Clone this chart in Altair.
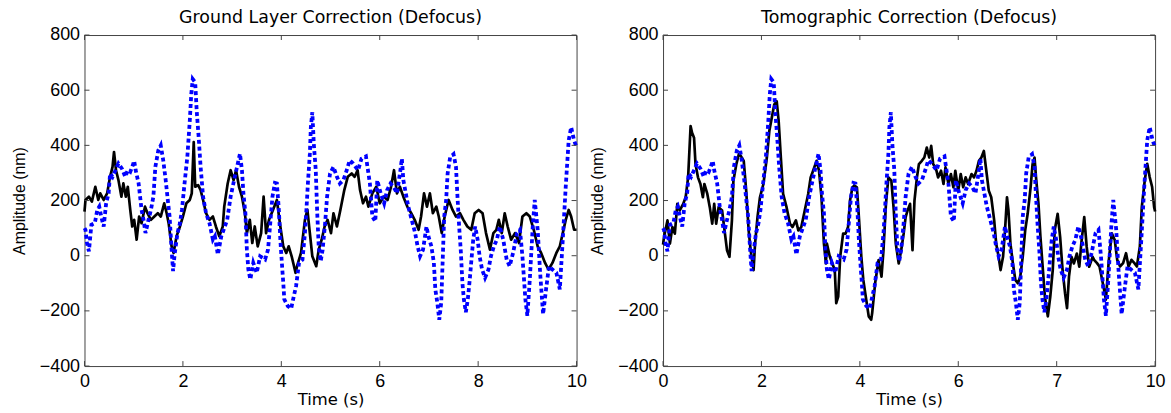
import altair as alt
import pandas as pd

# ---------------- data ----------------
# blue dashed series (identical in both panels)
blue_time = [0.00, 0.02, 0.05, 0.09, 0.14, 0.21, 0.26, 0.30, 0.34, 0.39, 0.44, 0.49, 0.52, 0.57, 0.63, 0.69,
             0.76, 0.83, 0.88, 0.93, 0.97, 1.01, 1.04, 1.10, 1.16, 1.20, 1.24, 1.30, 1.35, 1.40, 1.44, 1.50,
             1.55, 1.60, 1.65, 1.70, 1.73, 1.77, 1.80, 1.83, 1.89, 1.94, 1.98, 2.04, 2.09, 2.14, 2.17, 2.20,
             2.25, 2.28, 2.32, 2.36, 2.41, 2.47, 2.54, 2.61, 2.65, 2.71, 2.78, 2.90, 2.97, 3.04, 3.10, 3.16,
             3.20, 3.23, 3.27, 3.30, 3.33, 3.37, 3.43, 3.50, 3.57, 3.67, 3.73, 3.77, 3.82, 3.87, 3.91, 3.95,
             3.98, 4.02, 4.04, 4.06, 4.13, 4.20, 4.24, 4.30, 4.36, 4.43, 4.48, 4.51, 4.54, 4.58, 4.60, 4.63,
             4.66, 4.70, 4.73, 4.76, 4.80, 4.84, 4.89, 4.93, 4.99, 5.06, 5.13, 5.19, 5.26, 5.33, 5.39, 5.46,
             5.56, 5.63, 5.72, 5.80, 5.85, 5.91, 5.95, 6.02, 6.09, 6.15, 6.22, 6.28, 6.35, 6.42, 6.45, 6.48,
             6.53, 6.58, 6.65, 6.72, 6.77, 6.82, 6.88, 6.95, 6.99, 7.05, 7.10, 7.13, 7.17, 7.21, 7.25, 7.28,
             7.31, 7.35, 7.38, 7.43, 7.50, 7.55, 7.58, 7.61, 7.65, 7.68, 7.71, 7.75, 7.79, 7.83, 7.87, 7.90,
             7.94, 7.99, 8.03, 8.08, 8.14, 8.21, 8.26, 8.32, 8.38, 8.44, 8.51, 8.58, 8.64, 8.71, 8.79, 8.85,
             8.90, 8.96, 9.00, 9.05, 9.11, 9.15, 9.21, 9.26, 9.32, 9.38, 9.44, 9.51, 9.59, 9.66, 9.72, 9.78,
             9.84, 9.89, 9.95, 10.00]
blue_amp = [100, 94, 46, 16, 112, 118, 166, 178, 142, 106, 190, 226, 298, 286, 310, 334,
            316, 286, 310, 304, 322, 344, 310, 262, 166, 130, 82, 130, 166, 214, 322, 382,
            400, 346, 274, 190, 142, 22, -56, 2, 82, 118, 166, 274, 358, 490, 586, 640,
            628, 526, 430, 322, 214, 154, 118, 58, 70, 4, 70, 130, 214, 274, 322, 370,
            310, 226, 154, 22, -50, -86, -26, -62, -2, -14, 22, 106, 214, 264, 262, 166,
            58, -50, -98, -158, -182, -192, -158, -110, -26, -14, 82, 166, 262, 370, 466, 520,
            406, 310, 154, 34, -20, 22, 118, 214, 298, 322, 286, 262, 274, 310, 346, 334,
            310, 352, 360, 262, 142, 124, 274, 226, 190, 238, 262, 250, 226, 310, 352, 274,
            226, 178, 130, 82, 34, -2, 22, 106, 70, 34, -26, -122, -170, -232, -170, -14,
            142, 202, 298, 356, 368, 322, 214, 118, 10, -98, -158, -205, -158, -86, -2, 58,
            106, 58, -2, -50, -80, -50, -2, 34, 58, 106, 58, -14, -38, 10, 82, 94,
            -2, -158, -218, -86, 106, 202, 94, -62, -212, -122, -38, -50, -62, -122, 58, 250,
            418, 466, 418, 394]

# black solid series, ground layer correction (left panel)
glc_time = [0.00, 0.02, 0.09, 0.15, 0.22, 0.28, 0.32, 0.39, 0.46, 0.52, 0.57, 0.60, 0.64, 0.69, 0.75, 0.79,
            0.84, 0.88, 0.93, 0.97, 1.01, 1.06, 1.11, 1.16, 1.23, 1.28, 1.35, 1.42, 1.49, 1.55, 1.62, 1.67,
            1.71, 1.77, 1.81, 1.87, 1.94, 2.00, 2.07, 2.14, 2.18, 2.22, 2.25, 2.31, 2.36, 2.41, 2.47, 2.54,
            2.61, 2.67, 2.74, 2.81, 2.84, 2.91, 2.97, 3.03, 3.08, 3.14, 3.20, 3.26, 3.30, 3.36, 3.41, 3.46,
            3.52, 3.59, 3.64, 3.69, 3.75, 3.83, 3.91, 3.98, 4.04, 4.10, 4.15, 4.21, 4.29, 4.32, 4.40, 4.48,
            4.53, 4.58, 4.63, 4.71, 4.76, 4.82, 4.88, 4.94, 5.01, 5.06, 5.13, 5.20, 5.28, 5.35, 5.43, 5.49,
            5.55, 5.60, 5.66, 5.72, 5.77, 5.85, 5.93, 6.00, 6.08, 6.16, 6.23, 6.29, 6.35, 6.41, 6.48, 6.56,
            6.64, 6.71, 6.79, 6.84, 6.90, 6.96, 7.02, 7.08, 7.15, 7.20, 7.26, 7.32, 7.40, 7.48, 7.55, 7.63,
            7.70, 7.78, 7.86, 7.93, 8.01, 8.09, 8.16, 8.24, 8.31, 8.37, 8.42, 8.48, 8.54, 8.60, 8.67, 8.75,
            8.83, 8.90, 8.98, 9.05, 9.13, 9.21, 9.28, 9.36, 9.43, 9.51, 9.59, 9.66, 9.72, 9.78, 9.84, 9.89,
            9.95, 10.00]
glc_amp = [160, 202, 214, 196, 250, 202, 226, 202, 226, 286, 322, 376, 310, 274, 214, 262,
           214, 250, 166, 106, 130, 58, 142, 118, 178, 154, 130, 142, 154, 142, 190, 154,
           118, 34, 10, 70, 106, 142, 190, 202, 226, 412, 250, 256, 238, 202, 154, 130,
           142, 106, 70, 106, 178, 262, 310, 274, 310, 250, 214, 154, 82, 130, 46, 106,
           34, 82, 214, 82, 130, 166, 202, 106, 34, 10, 34, -2, -62, -38, 10, 130,
           166, 82, -2, -38, 22, 58, 106, 130, 82, 154, 106, 166, 238, 286, 298, 286,
           310, 238, 190, 214, 178, 226, 250, 190, 214, 202, 250, 310, 226, 250, 214, 178,
           154, 130, 94, 142, 226, 178, 226, 154, 178, 142, 82, 142, 202, 166, 142, 154,
           130, 106, 94, 154, 166, 154, 82, 22, 82, 94, 130, 82, 154, 106, 58, 82,
           46, 142, 154, 142, 94, 34, 10, -26, -50, -26, 10, 34, 82, 130, 166, 142,
           94, 94]

# black solid series, tomographic correction (right panel)
tomo_time = [0.00, 0.02, 0.09, 0.14, 0.19, 0.24, 0.29, 0.34, 0.41, 0.46, 0.51, 0.56, 0.59, 0.63, 0.66, 0.71,
             0.76, 0.81, 0.84, 0.90, 0.95, 1.00, 1.04, 1.08, 1.13, 1.20, 1.25, 1.30, 1.35, 1.40, 1.43, 1.49,
             1.54, 1.58, 1.64, 1.69, 1.74, 1.78, 1.84, 1.87, 1.92, 1.97, 2.04, 2.11, 2.16, 2.21, 2.26, 2.31,
             2.35, 2.39, 2.44, 2.51, 2.58, 2.63, 2.70, 2.75, 2.81, 2.88, 2.95, 3.00, 3.05, 3.12, 3.17, 3.22,
             3.27, 3.31, 3.33, 3.39, 3.44, 3.49, 3.52, 3.56, 3.60, 3.66, 3.71, 3.76, 3.80, 3.85, 3.89, 3.94,
             3.98, 4.03, 4.07, 4.13, 4.18, 4.23, 4.25, 4.31, 4.38, 4.44, 4.48, 4.53, 4.58, 4.64, 4.69, 4.73,
             4.79, 4.84, 4.89, 4.93, 4.97, 5.02, 5.07, 5.11, 5.16, 5.20, 5.26, 5.31, 5.36, 5.41, 5.45, 5.49,
             5.54, 5.59, 5.65, 5.70, 5.74, 5.80, 5.85, 5.90, 5.94, 6.00, 6.05, 6.10, 6.15, 6.20, 6.27, 6.32,
             6.37, 6.42, 6.47, 6.52, 6.57, 6.62, 6.67, 6.73, 6.77, 6.82, 6.86, 6.91, 6.95, 6.99, 7.02, 7.06,
             7.11, 7.16, 7.21, 7.26, 7.31, 7.36, 7.41, 7.47, 7.51, 7.55, 7.58, 7.63, 7.67, 7.72, 7.76, 7.82,
             7.87, 7.92, 7.96, 8.02, 8.07, 8.12, 8.17, 8.21, 8.25, 8.30, 8.35, 8.41, 8.46, 8.50, 8.56, 8.61,
             8.66, 8.73, 8.76, 8.82, 8.87, 8.95, 9.00, 9.06, 9.12, 9.18, 9.23, 9.29, 9.35, 9.41, 9.46, 9.52,
             9.58, 9.63, 9.69, 9.73, 9.79, 9.84, 9.89, 9.94, 9.98, 10.00]
tomo_amp = [40, 68, 128, 44, 104, 80, 188, 164, 188, 212, 284, 470, 446, 428, 332, 284,
            260, 212, 260, 224, 176, 116, 188, 116, 176, 164, 92, 20, -4, 128, 272, 332,
            368, 362, 344, 236, 92, 20, -52, 44, 140, 212, 260, 356, 452, 500, 548, 560,
            488, 368, 224, 176, 116, 104, 128, 92, 104, 164, 224, 284, 308, 344, 308, 212,
            44, -28, 44, -4, -28, -52, -172, -148, -4, 80, 80, 104, 200, 248, 254, 248,
            140, -4, -88, -160, -220, -232, -208, -100, -16, -76, 20, 188, 284, 272, 164, 44,
            -28, 20, 80, 140, 164, 188, 20, 200, 284, 332, 344, 356, 392, 356, 398, 332,
            320, 284, 308, 260, 320, 260, 296, 248, 308, 236, 296, 248, 284, 260, 296, 284,
            308, 344, 356, 380, 308, 236, 212, 128, 44, -4, -52, -4, 92, 212, 164, 44,
            -28, -88, -100, -76, -4, 92, 152, 248, 332, 356, 284, 188, 68, -52, -148, -220,
            -148, -52, 92, 152, 68, -52, -136, -190, -76, -4, -28, 8, -40, 44, 140, 32,
            -40, -4, -15, -27, -39, -111, -159, -15, 81, 57, -15, -39, -27, 9, -39, -15,
            -27, -39, 33, 177, 273, 333, 285, 249, 177, 160]

y_ticks = [-400, -200, 0, 200, 400, 600, 800]
x_ticks = [0, 2, 4, 6, 8, 10]
x_labels_left = ["0", "2", "4", "6", "8", "10"]
x_labels_right = ["0", "2", "4", "6", "7", "10"]
panel_titles = ["Ground Layer Correction (Defocus)", "Tomographic Correction (Defocus)"]
x_title = "Time (s)"
y_title = "Amplitude (nm)"

# ---------------- chart ----------------
FONT = "Liberation Sans"
WIDE_FONT = "DejaVu Sans"
W, H = 495, 333
TICK = 5
FRAME = "#444444"

df_blue = pd.DataFrame({"t": blue_time, "v": blue_amp})
df_yt = pd.DataFrame({"v": y_ticks})
df_xt = pd.DataFrame({"t": x_ticks})


def label_expr(values, labels):
    expr = "''"
    for v, l in zip(reversed(values), reversed(labels)):
        expr = f"datum.value == {v} ? '{l}' : {expr}"
    return expr


def panel(times, amps, title, xlabels):
    xs = alt.Scale(domain=[0, 10], nice=False, zero=False)
    ys = alt.Scale(domain=[-400, 800], nice=False, zero=False)
    xaxis = alt.Axis(values=x_ticks, labelExpr=label_expr(x_ticks, xlabels), title=x_title,
                     grid=False, domain=False, ticks=False, tickSize=0, labelPadding=7,
                     titlePadding=1, labelFlush=False, titleFont=WIDE_FONT, titleFontSize=16.5)
    yaxis = alt.Axis(values=y_ticks, title=y_title, grid=False, domain=False, ticks=False,
                     tickSize=0, labelPadding=5, titlePadding=12, titleFont=FONT, titleFontSize=16)
    df_black = pd.DataFrame({"t": times, "v": amps})
    black = alt.Chart(df_black).mark_line(color="black", strokeWidth=2.7, strokeJoin="round").encode(
        x=alt.X("t:Q", scale=xs, axis=xaxis),
        y=alt.Y("v:Q", scale=ys, axis=yaxis),
    )
    blue = alt.Chart(df_blue).mark_line(color="#0000FF", strokeWidth=3.8, strokeDash=[4, 3],
                                         strokeCap="butt").encode(
        x=alt.X("t:Q", scale=xs), y=alt.Y("v:Q", scale=ys)
    )
    yl = alt.Chart(df_yt).mark_rule(color=FRAME, strokeWidth=1).encode(
        y=alt.Y("v:Q", scale=ys), x=alt.value(0), x2=alt.value(TICK))
    yr = alt.Chart(df_yt).mark_rule(color=FRAME, strokeWidth=1).encode(
        y=alt.Y("v:Q", scale=ys), x=alt.value(W - TICK), x2=alt.value(W))
    xb = alt.Chart(df_xt).mark_rule(color=FRAME, strokeWidth=1).encode(
        x=alt.X("t:Q", scale=xs), y=alt.value(H - TICK), y2=alt.value(H))
    xt = alt.Chart(df_xt).mark_rule(color=FRAME, strokeWidth=1).encode(
        x=alt.X("t:Q", scale=xs), y=alt.value(0), y2=alt.value(TICK))
    return alt.layer(black, blue, yl, yr, xb, xt).properties(
        width=W, height=H,
        title=alt.TitleParams(title, fontSize=17.5, font=WIDE_FONT, fontWeight="normal", color="black",
                              offset=0),
    )


left = panel(glc_time, glc_amp, panel_titles[0], x_labels_left)
right = panel(tomo_time, tomo_amp, panel_titles[1], x_labels_right)

chart = alt.hconcat(left, right, spacing=87, bounds="flush").properties(
    padding={"left": 10, "top": 7, "right": 5, "bottom": 5},
    background="white",
).configure_view(
    stroke=FRAME, strokeWidth=1
).configure_axis(
    labelFont=FONT, labelFontSize=18, labelColor="black",
    titleFontWeight="normal", titleColor="black",
)

chart.save("out.html", embed_options={"renderer": "svg", "actions": False})
